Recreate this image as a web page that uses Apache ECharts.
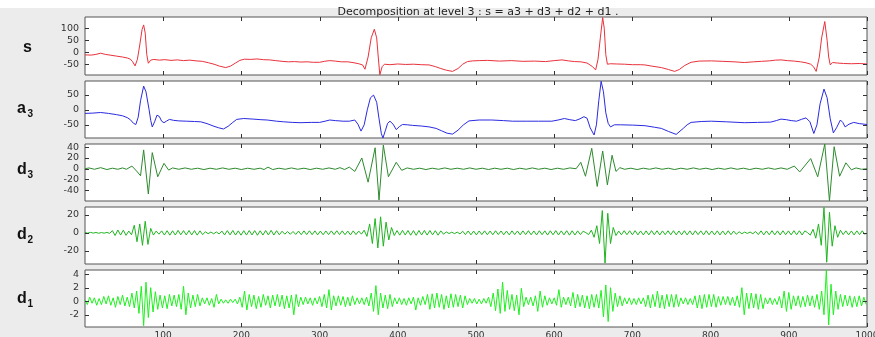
<!DOCTYPE html>
<html>
<head>
<meta charset="utf-8">
<script src="https://cdn.jsdelivr.net/npm/echarts@6/dist/echarts.min.js"></script>
<style>
  html, body { margin: 0; padding: 0; background: #ececec; }
  #chart { width: 875px; height: 337px; }
</style>
</head>
<body>
<div id="chart"></div>
<script>
// tick labels
const xTicks = [100, 200, 300, 400, 500, 600, 700, 800, 900, 1000]
const sTicks = [-50, 0, 50, 100]
const a3Ticks = [-50, 0, 50]
const d3Ticks = [-40, -20, 0, 20, 40]
const d2Ticks = [-20, 0, 20]
const d1Ticks = [-2, 0, 2, 4]

// signal s : [sample, value]
const sPts = [[0,-11],[8,-12],[14,-9],[20,-4],[26,-9],[32,-12],[40,-16],[48,-20],[54,-24],[58,-29],[61,-40],[64,-57],[67,-30],[70,30],[73,95],[75,114],[77,80],[79,-10],[81,-46],[84,-33],[88,-30],[95,-33],[102,-31],[110,-34],[118,-32],[126,-35],[134,-33],[142,-36],[150,-38],[158,-44],[165,-50],[172,-58],[180,-64],[186,-58],[192,-46],[198,-34],[204,-29],[212,-30],[220,-28],[228,-31],[236,-32],[244,-35],[252,-38],[260,-40],[268,-39],[276,-41],[284,-40],[292,-42],[300,-42],[306,-38],[313,-35],[320,-37],[328,-40],[336,-40],[344,-44],[350,-48],[355,-53],[358,-71],[362,-20],[366,60],[370,96],[373,60],[375,-20],[377,-94],[380,-60],[383,-50],[390,-52],[400,-49],[410,-51],[420,-50],[430,-52],[440,-53],[448,-60],[455,-68],[462,-75],[470,-80],[477,-68],[483,-50],[489,-39],[496,-36],[504,-35],[515,-34],[530,-37],[545,-35],[560,-38],[575,-37],[589,-39],[600,-35],[610,-32],[618,-36],[626,-39],[634,-40],[642,-45],[649,-60],[653,-74],[656,-30],[659,60],[662,145],[664,100],[666,-10],[668,-50],[672,-48],[680,-49],[690,-50],[700,-52],[710,-52],[716,-53],[725,-58],[737,-64],[746,-72],[754,-80],[760,-72],[767,-55],[775,-42],[785,-37],[801,-36],[815,-38],[830,-40],[843,-43],[855,-40],[865,-38],[875,-36],[883,-33],[890,-32],[898,-35],[907,-37],[915,-40],[922,-44],[928,-50],[932,-62],[935,-80],[939,-20],[942,60],[946,128],[949,50],[951,-20],[953,-53],[956,-43],[962,-45],[970,-47],[980,-48],[990,-47],[1000,-49]]

// approximation a3
const a3Pts = [[0,-12],[10,-11],[20,-9],[30,-12],[40,-16],[48,-20],[54,-26],[58,-33],[62,-45],[65,-49],[68,-25],[71,30],[75,79],[78,60],[82,0],[84,-35],[86,-57],[89,-40],[92,-18],[95,-22],[98,-38],[101,-43],[104,-38],[108,-32],[113,-35],[120,-37],[130,-38],[140,-39],[148,-40],[156,-46],[165,-55],[171,-60],[177,-64],[183,-55],[189,-42],[194,-32],[203,-29],[215,-31],[225,-33],[233,-34],[245,-38],[254,-40],[265,-42],[275,-43],[290,-42],[300,-42],[307,-38],[313,-34],[320,-36],[330,-38],[338,-38],[345,-34],[349,-48],[353,-71],[357,-50],[361,0],[365,40],[369,49],[373,25],[376,-30],[379,-80],[381,-94],[384,-70],[387,-45],[390,-38],[394,-48],[398,-66],[402,-56],[406,-49],[412,-50],[419,-52],[430,-54],[440,-57],[449,-62],[456,-70],[463,-78],[470,-81],[477,-68],[484,-50],[491,-37],[504,-34],[520,-34],[535,-36],[547,-38],[565,-38],[580,-38],[597,-38],[605,-34],[613,-29],[620,-33],[627,-36],[633,-30],[638,-23],[642,-28],[646,-60],[651,-84],[654,-50],[657,30],[660,95],[663,60],[666,-10],[669,-45],[672,-57],[677,-50],[685,-50],[700,-51],[716,-53],[728,-58],[737,-62],[746,-72],[756,-82],[765,-62],[770,-50],[775,-42],[788,-39],[801,-38],[820,-40],[843,-43],[860,-42],[877,-41],[884,-36],[890,-31],[897,-33],[903,-36],[910,-38],[916,-32],[922,-27],[927,-40],[932,-79],[936,-50],[940,20],[945,69],[949,40],[953,-30],[957,-77],[961,-60],[966,-34],[969,-42],[972,-57],[977,-48],[983,-42],[990,-46],[1000,-49]]

// detail d3
const d3Pts = [[0,0],[5,1.5],[12,-1],[20,2],[28,-1.5],[35,1],[42,-1],[48,1.5],[53,-1],[60,5],[67,-6],[71,-13],[75,35],[81,-47],[86,30],[93,-15],[101,10],[107,-2.5],[112,1.5],[120,-1],[128,1.5],[136,-1],[144,1],[152,-1.5],[160,1],[168,-1],[176,1.5],[184,-1],[192,1],[200,-1.5],[208,1],[216,-1],[224,1],[229,-1.5],[234,3],[240,-1.5],[248,1],[256,-1],[264,1.5],[272,-1],[280,1],[288,-1.5],[296,1],[304,-1],[312,1.5],[320,-1],[326,2],[332,-1.5],[338,3],[345,-5],[354,20],[362,-25],[371,39],[376,-58],[381.5,44],[388,-15],[398,12],[405,-3],[412,1.5],[420,-1],[428,1],[436,-1.5],[444,1],[452,-1],[460,1.5],[468,-1],[476,1],[484,-1],[492,1.5],[500,-1],[508,1],[516,-1.5],[524,1],[532,-1],[540,1],[548,-1.5],[556,1],[564,-1],[572,1.5],[580,-1],[588,1],[596,-1.5],[604,1],[612,-1],[620,1.5],[628,0],[634,12],[640,-14],[648,38],[655,-33],[662,33],[668,-30],[674,25],[679,-5],[684,2],[690,-1],[698,1],[706,-1.5],[714,1],[722,-1],[730,1.5],[738,-1],[746,1],[754,-1.5],[762,1],[770,-1],[778,1.5],[786,-1],[794,1],[802,-1.5],[810,1],[818,-1],[826,1.5],[834,-1],[842,1],[850,-1.5],[858,1],[866,-1],[874,1.5],[882,-1],[890,1.5],[898,-1],[907,5],[914,-6],[928,19],[937,-15],[946,46],[952,-60],[958,41],[965,-14],[973,11],[980,-2],[986,1.5],[993,-1],[1000,0]]

// detail d2, one value every 3.5 samples
const d2Step = 3.5
const d2 = [
  0.3,-0.4,0.5,-0.3,0.4,-0.5,0.3,-0.4,0.5,-0.6,
  2.5,-3,3.2,-2.5,3,-2.8,2,-2.2,8.5,-10,
  10,-14,13,-13,5,-2.5,2,-1.5,2.2,-2.5,
  2.4,-2.6,2.3,-2.5,2.8,-2.2,2.5,-2.4,2.6,-2.3,
  2.5,-2.6,2.2,-2,1.2,-1,0.9,-1.1,1,-1.2,
  2,-2.4,2.5,-2.3,2.6,-2.5,2.2,-2.6,2.4,-2.5,
  2.6,-2.4,2.5,-2.7,2.3,-2.5,2.6,-2.4,2.8,-2.5,
  2.4,-2.2,1.8,-1.5,1.4,-1.6,1.5,-1.8,2,-2.1,
  2.2,-2,2.3,-2.1,2.2,-2.3,2,-2.2,2.1,-2,
  2.2,-2.1,2.3,-2,2.2,-2.1,2,-2.3,2.2,-2,
  2,-1.5,3,-4,10,-12,16,-17,18,-15,
  12,-8,6,-3,2.5,-2.6,2.8,-2.4,2.6,-2.7,
  2.5,-2.8,2.6,-2.4,2.7,-2.5,2.6,-2.3,2.4,-2.6,
  2.2,-1.5,1,-0.8,0.7,-0.9,0.8,-1.2,1.8,-2,
  2.1,-2.2,2,-2.3,2.1,-2,2.2,-2.1,2,-2.2,
  2.3,-2,2.1,-2.2,2,-2.3,2.2,-2,2.1,-2.3,
  2.2,-2,2.4,-2.2,2.1,-2.4,2.3,-2.1,2.2,-2.5,
  2.3,-2.2,2.5,-2.4,2.2,-2.3,2.4,-2.6,2.3,-2.4,
  2.2,-2,1.8,0.2,-2,3,-5,8,-12,25,
  -34,22,-12,6,-3,2,-2.2,2.4,-2.1,2.3,
  -2.2,2.4,-2.3,2.1,-2.4,2.2,-2.3,2.5,-2.2,2.3,
  -2.4,2.2,-2.1,2.3,-2.2,2.4,-2.3,2.1,-2.2,2.4,
  -2.3,2.2,-2.4,2.3,-2.1,2.2,-2.3,2.4,-2.2,2.1,
  -2.3,2.2,-2.4,2.1,-2.2,2.3,-2.1,2,-1.6,1.2,
  -1,0.8,-0.7,0.9,-1,1.5,-2,2.2,-2.3,2.1,
  -2.2,2.4,-2.3,2.2,-2.4,2.3,-2.1,2.2,-2.3,2.4,
  -2.2,2.3,-2.4,2.2,0.2,-2.6,4,-6,10,-14,
  28.5,-33,23,-15,8,-5,3,-2,2.2,-2.3,
  2.1,-2.4,2.2,-2,2.3,-2.1
]

// detail d1, one value every 3 samples
const d1Step = 3
const d1 = [
  0.2,-0.5,0.6,-0.3,0.5,-0.6,0.4,-0.5,0.7,-0.4,
  0.8,-0.6,0.5,-0.9,0.7,-0.5,0.9,-0.7,0.6,-0.8,
  1.2,-1,1.5,-1.8,2.2,-3.6,2.8,-2.4,2,-1.6,
  1.4,-1.2,0.9,-1,0.8,-1.1,1,-0.7,0.9,-0.8,
  1,-1.2,2.2,-2,1.2,-1,0.9,-0.8,1,-0.7,
  0.5,-0.4,0.5,-0.6,0.4,-0.9,1,-0.4,0.3,-0.3,
  0.2,-0.3,0.3,-0.2,0.3,-0.4,0.6,-0.9,1.5,-1.3,
  1,-0.8,0.9,-1.1,0.7,-0.9,1,-0.6,0.8,-1,
  0.9,-0.7,1,-0.8,0.9,-1.1,0.8,-1,0.9,-2,
  1,-0.8,0.6,-0.5,0.6,-0.4,0.5,-0.6,0.5,-0.4,
  0.7,-0.8,1,-1,1.7,-1.3,0.8,-0.7,0.8,-0.6,
  0.7,-0.8,0.6,-0.7,0.8,-0.5,0.5,-0.4,0.5,-0.5,
  0.6,-0.7,1.2,-1.5,2.3,-2,1.2,-1,0.9,-1.1,
  1,-0.8,0.5,-0.4,0.5,-0.5,0.4,-0.6,0.5,-0.4,
  0.6,-1.3,0.5,-0.6,0.7,-0.5,1,-1.2,1.1,-1,
  1.2,-0.9,1,-1.2,0.8,-1,1.1,-0.9,1,-0.8,
  0.9,-1,0.8,-0.5,0.4,-0.3,0.4,-0.4,0.3,-0.4,
  0.4,-0.3,0.6,-0.8,1.2,-1.4,1.8,-1.8,2.8,-1.5,
  1.6,-1.2,1,-1.4,0.9,-2,1.9,-0.8,0.6,-0.5,
  0.6,-0.7,0.8,-1.5,1.5,-0.9,0.8,-0.6,0.5,-0.4,
  0.5,-0.6,1.7,-0.9,0.6,-0.5,0.6,-0.7,1.3,-1,
  1,-0.8,0.9,-1,0.8,-1.1,1,-0.9,1,-1,
  1.6,-2.3,2.4,-3,2,-1.5,1.2,-0.8,0.8,-0.7,
  0.5,-0.4,0.5,-0.5,0.4,-0.5,0.5,-0.4,0.5,-0.8,
  0.9,-1,1,-0.8,1.5,-1,0.9,-1.1,1,-0.8,
  1,-0.9,1,-0.8,0.5,-0.4,0.5,-0.5,0.4,-0.5,
  0.8,-1,0.9,-1.1,1,-0.9,1,-0.8,1,-0.9,
  0.7,-0.6,0.7,-0.5,0.7,-0.6,0.6,-0.7,0.8,-0.9,
  2,-2,1.2,-1.1,1.2,-1,1.1,-1.2,1,-1.1,
  0.5,-0.4,0.5,-0.5,0.4,-0.5,0.7,-1,1.5,-1.5,
  1.3,-1.2,0.8,-0.7,0.8,-0.9,0.7,-0.8,0.9,-0.7,
  0.8,-0.9,1,-1.2,1.5,-2,4.6,-3.5,2.5,-2,
  1.5,-1.2,1,-0.8,0.9,-0.7,0.8,-0.9,0.7,-0.8,
  0.8,-0.7,0.6,-0.5
]

const font = '"Liberation Sans", Arial, sans-serif'
const tickFont = '"DejaVu Sans", sans-serif'

const panels = [
  { key: 's', sub: '', data: sPts, color: '#e8323c', min: -95, max: 147, ticks: sTicks, top: 17, height: 58, ly: 47.5 },
  { key: 'a', sub: '3', data: a3Pts, color: '#2a2ae0', min: -94, max: 96, ticks: a3Ticks, top: 81, height: 57, ly: 108.5 },
  { key: 'd', sub: '3', data: d3Pts, color: '#2e8a2e', min: -60, max: 46, ticks: d3Ticks, top: 144, height: 57, ly: 170 },
  { key: 'd', sub: '2', data: d2.map((v, i) => [i * d2Step, v]), color: '#1fb41f', min: -35, max: 29, ticks: d2Ticks, top: 207, height: 57, ly: 235 },
  { key: 'd', sub: '1', data: d1.map((v, i) => [i * d1Step, v]), color: '#1ff01f', min: -3.8, max: 4.6, ticks: d1Ticks, top: 270, height: 57, ly: 299 },
]

const TICK = 4
const tickLine = { stroke: '#333', lineWidth: 1 }

const grid = panels.map((p) => ({
  left: 85, right: 8, top: p.top, height: p.height,
  outerBoundsMode: 'none', containLabel: false,
  show: true, backgroundColor: '#ffffff', borderColor: '#555', borderWidth: 1,
}))

const xAxis = []
const yAxis = []
panels.forEach((p, k) => {
  xAxis.push({
    type: 'value', gridIndex: k, min: 0, max: 1000, interval: 100, position: 'bottom',
    axisLine: { show: false, onZero: false }, axisTick: { show: false }, splitLine: { show: false },
    axisLabel: {
      show: k === panels.length - 1,
      margin: 4, hideOverlap: false, showMinLabel: false,
      formatter: (v) => (xTicks.includes(v) ? String(v) : ''),
      fontFamily: tickFont, fontSize: 9, color: '#333',
    },
  })
  yAxis.push({
    type: 'value', gridIndex: k, min: p.min, max: p.max, position: 'left',
    axisLine: { show: false, onZero: false }, axisTick: { show: false }, splitLine: { show: false },
    axisLabel: {
      customValues: p.ticks, margin: 6,
      fontFamily: tickFont, fontSize: 9.5, color: '#333',
    },
  })
})

const series = []
panels.forEach((p, k) => {
  series.push({
    type: 'line', xAxisIndex: k, yAxisIndex: k,
    data: p.data, showSymbol: false, symbol: 'none',
    lineStyle: { color: p.color, width: 1 }, silent: true,
  })
  // inside ticks on the top and bottom edges
  series.push({
    type: 'custom', xAxisIndex: k, yAxisIndex: k, silent: true, z: 10, clip: false,
    data: xTicks.map((v) => [v, 0]),
    renderItem: (params, api) => {
      const r = params.coordSys
      const x = Math.round(api.coord([api.value(0), 0])[0]) + 0.5
      const b = r.y + r.height
      return {
        type: 'group', children: [
          { type: 'line', shape: { x1: x, y1: r.y, x2: x, y2: r.y + TICK }, style: tickLine },
          { type: 'line', shape: { x1: x, y1: b, x2: x, y2: b - TICK }, style: tickLine },
        ],
      }
    },
  })
  // inside ticks on the left and right edges
  series.push({
    type: 'custom', xAxisIndex: k, yAxisIndex: k, silent: true, z: 10, clip: false,
    data: p.ticks.map((v) => [0, v]),
    renderItem: (params, api) => {
      const r = params.coordSys
      const y = Math.round(api.coord([0, api.value(1)])[1]) + 0.5
      const rx = r.x + r.width
      return {
        type: 'group', children: [
          { type: 'line', shape: { x1: r.x, y1: y, x2: r.x + TICK, y2: y }, style: tickLine },
          { type: 'line', shape: { x1: rx, y1: y, x2: rx - TICK, y2: y }, style: tickLine },
        ],
      }
    },
  })
})

const graphic = [
  { type: 'rect', shape: { x: 0, y: 0, width: 875, height: 8 }, style: { fill: '#ffffff' } },
  {
    type: 'text', x: 478, y: 12.5,
    style: { text: 'Decomposition at level 3 : s = a3 + d3 + d2 + d1 .', font: '11px ' + tickFont, fill: '#222', align: 'center', verticalAlign: 'middle' },
  },
]
panels.forEach((p) => {
  graphic.push({
    type: 'text', x: p.sub ? 17 : 23, y: p.ly,
    style: { text: p.key, font: 'bold 16px ' + font, fill: '#111', align: 'left', verticalAlign: 'middle' },
  })
  if (p.sub) {
    graphic.push({
      type: 'text', x: 27.5, y: p.ly + 5.5,
      style: { text: p.sub, font: 'bold 10px ' + font, fill: '#111', align: 'left', verticalAlign: 'middle' },
    })
  }
})

const chart = echarts.init(document.getElementById('chart'), null, { renderer: 'canvas' })
chart.setOption({
  backgroundColor: '#ececec',
  animation: false,
  grid, xAxis, yAxis, series, graphic,
})
</script>
</body>
</html>
